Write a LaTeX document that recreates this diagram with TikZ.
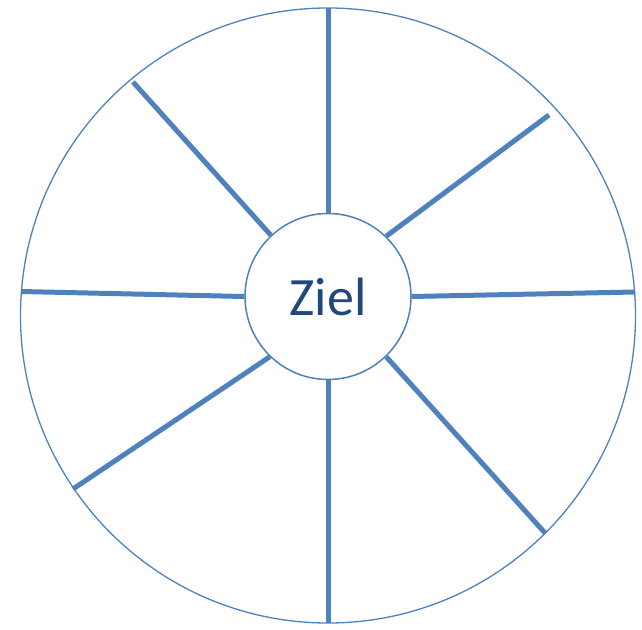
\documentclass[tikz,border=0pt]{standalone}
\usepackage{fontspec}
\setmainfont{Carlito}
\definecolor{radblau}{HTML}{4F81BD}
\definecolor{zieltext}{HTML}{1F497D}
\tikzset{
  rand/.style={circle, draw=radblau, line width=1.3pt, inner sep=0pt},
  speiche/.style={draw=radblau, line width=5pt},
}

\begin{document}
\begin{tikzpicture}[x=1pt, y=-1pt]
    \useasboundingbox (0,0) rectangle (642,629);

    % aeusserer Kreis
    \node[rand, minimum size=615pt] (rad) at (328,315.5) {};
    % Mitte
    \node[rand, minimum size=166pt, line width=1.5pt, fill=white,
          text=zieltext, font=\fontsize{54}{60}\selectfont] (ziel) at (328,296.5) {Ziel};

    % Enden der Speichen
    \coordinate (e1) at (328,8);
    \coordinate (e2) at (549,115);
    \coordinate (e3) at (635,292);
    \coordinate (e4) at (545,533);
    \coordinate (e5) at (328,623);
    \coordinate (e6) at (73,489);
    \coordinate (e7) at (21,291.5);
    \coordinate (e8) at (133,82);

    \foreach \w/\e in {90/e1, 46/e2, 0/e3, 314/e4, 270/e5, 226/e6, 180/e7, 133/e8}
        \draw[speiche] (ziel.\w) -- (\e);
\end{tikzpicture}
\end{document}
